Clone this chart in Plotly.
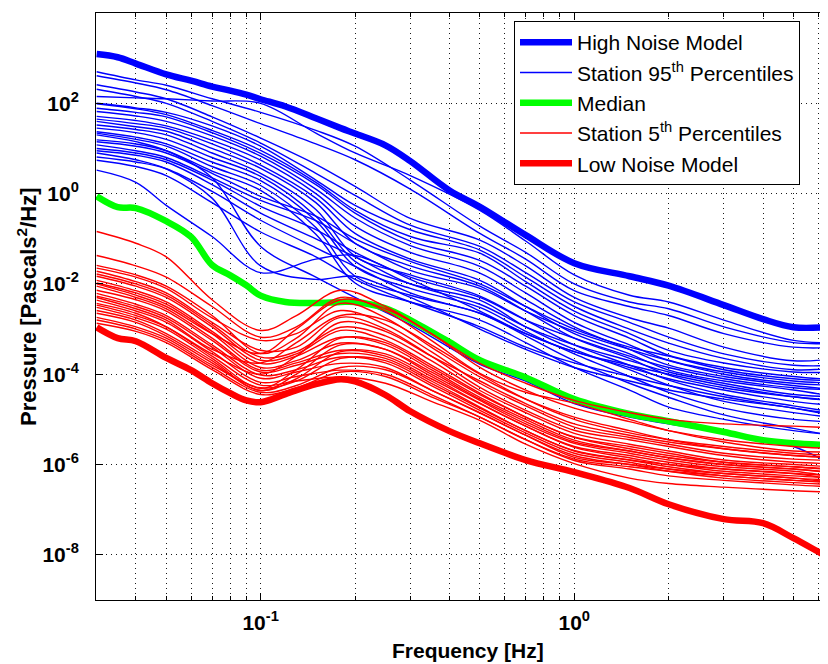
import plotly.graph_objects as go

# All PSD values below are log10(Pressure PSD [Pa^2/Hz]).

# ---------- noise models and median ----------
f_model = [0.03, 0.035, 0.04, 0.05, 0.06, 0.07, 0.08, 0.09, 0.1, 0.12, 0.15, 0.18, 0.2,
           0.25, 0.3, 0.4, 0.5, 0.7, 1.0, 1.5, 2.0, 3.0, 4.0, 5.0, 6.5, 7.0]
hnm_log = [3.09, 3.02, 2.88, 2.64, 2.50, 2.37, 2.28, 2.19, 2.09, 1.93, 1.67, 1.45, 1.33,
           1.07, 0.72, 0.07, -0.29, -0.92, -1.54, -1.83, -2.04, -2.47, -2.78, -2.96, -2.96, -2.96]
lnm_log = [-2.96, -3.20, -3.27, -3.64, -3.91, -4.20, -4.42, -4.58, -4.62, -4.44, -4.22, -4.11, -4.16,
           -4.46, -4.82, -5.26, -5.53, -5.90, -6.17, -6.52, -6.88, -7.21, -7.30, -7.63, -8.06, -8.15]
median_log = [-0.06, -0.30, -0.32, -0.61, -0.96, -1.58, -1.81, -2.03, -2.26, -2.40, -2.42, -2.40, -2.40,
              -2.54, -2.80, -3.29, -3.69, -4.07, -4.55, -4.88, -5.04, -5.28, -5.46, -5.53, -5.57, -5.58]

# ---------- station 95th percentiles ----------
f_blue = [0.03, 0.04, 0.05, 0.07, 0.1, 0.15, 0.2, 0.3, 0.5, 0.7, 1.0, 1.5, 2.0, 3.0, 5.0, 7.0]
s95_01 = [2.70, 2.52, 2.40, 2.10, 1.80, 1.40, 1.05, 0.30, -0.72, -1.30, -2.00, -2.40, -2.55, -2.95, -3.30, -3.31]
s95_02 = [2.61, 2.45, 2.30, 1.95, 1.55, 1.10, 0.75, 0.10, -0.88, -1.45, -2.15, -2.50, -2.70, -3.10, -3.40, -3.40]
s95_03 = [2.15, 2.12, 2.10, 2.05, 2.00, 1.34, 0.90, 0.40, -0.37, -1.05, -1.80, -2.25, -2.40, -2.80, -3.25, -3.31]
s95_04 = [2.41, 2.25, 2.10, 1.70, 1.23, 0.65, 0.16, -0.55, -1.03, -1.60, -2.30, -2.75, -2.98, -3.40, -3.70, -3.64]
s95_05 = [2.31, 2.15, 2.00, 1.60, 1.12, 0.45, -0.04, -0.70, -1.17, -1.75, -2.40, -2.85, -3.18, -3.55, -3.80, -3.80]
s95_06 = [2.00, 1.90, 1.80, 1.50, 1.05, 0.30, -0.26, -0.80, -1.25, -1.85, -2.50, -3.00, -3.31, -3.65, -3.90, -3.85]
s95_07 = [1.99, 1.88, 1.75, 1.40, 0.96, 0.25, -0.37, -0.95, -1.32, -1.95, -2.60, -3.10, -3.47, -3.75, -3.95, -3.95]
s95_08 = [1.89, 1.80, 1.70, 1.35, 0.89, 0.20, -0.43, -1.05, -1.48, -2.05, -2.70, -3.20, -3.58, -3.85, -4.05, -4.13]
s95_09 = [1.82, 1.72, 1.60, 1.28, 0.83, 0.10, -0.54, -1.15, -1.61, -2.20, -2.85, -3.35, -3.69, -3.95, -4.15, -4.20]
s95_10 = [1.71, 1.62, 1.50, 1.18, 0.74, 0.00, -0.72, -1.30, -1.76, -2.35, -2.95, -3.45, -3.80, -4.05, -4.25, -4.35]
s95_11 = [1.65, 1.55, 1.45, 1.10, 0.63, -0.10, -0.88, -1.45, -1.92, -2.50, -3.10, -3.55, -3.91, -4.15, -4.35, -4.51]
s95_12 = [1.60, 1.48, 1.38, 1.00, 0.56, -0.20, -1.10, -1.60, -2.05, -2.60, -3.20, -3.65, -4.02, -4.30, -4.50, -4.58]
s95_13 = [1.52, 1.42, 1.30, 0.90, 0.45, -0.35, -1.39, -1.80, -2.27, -2.80, -3.35, -3.80, -4.13, -4.45, -4.70, -4.86]
s95_14 = [1.45, 1.35, 1.20, 0.80, 0.38, -0.50, -1.50, -2.00, -2.36, -2.95, -3.45, -3.90, -4.24, -4.60, -4.85, -4.97]
s95_15 = [1.37, 1.25, 1.10, 0.70, 0.29, -0.60, -1.61, -2.10, -2.52, -3.05, -3.55, -4.05, -4.40, -4.75, -5.00, -5.06]
s95_16 = [1.34, 1.20, 1.05, 0.60, 0.18, -0.75, -1.83, -2.25, -2.65, -3.15, -3.70, -4.20, -4.51, -4.90, -5.20, -5.39]
s95_17 = [1.19, 1.10, 0.95, 0.50, 0.07, -0.90, -1.98, -2.40, -2.80, -3.30, -3.85, -4.35, -4.73, -5.00, -5.25, -5.35]
s95_18 = [1.15, 1.05, 0.90, 0.45, -0.06, -0.50, -1.00, -1.50, -2.00, -2.50, -3.00, -3.40, -3.60, -3.90, -4.10, -4.15]
s95_19 = [1.08, 0.95, 0.80, 0.35, -0.15, -0.60, -1.10, -1.70, -2.10, -2.60, -3.05, -3.45, -3.70, -4.00, -4.20, -4.25]
s95_20 = [1.00, 0.90, 0.75, 0.30, -0.28, -0.80, -1.30, -1.85, -2.30, -2.80, -3.20, -3.60, -3.85, -4.10, -4.30, -4.35]
s95_21 = [0.95, 0.85, 0.70, 0.20, -0.43, -1.00, -1.40, -2.00, -2.45, -2.95, -3.35, -3.70, -3.95, -4.20, -4.45, -4.50]
s95_22 = [0.81, 0.70, 0.55, 0.05, -0.59, -1.20, -1.61, -2.20, -2.65, -3.10, -3.50, -3.85, -4.10, -4.35, -4.60, -4.70]
s95_23 = [0.74, 0.60, 0.40, -0.20, -0.85, -1.40, -1.90, -2.40, -2.95, -3.40, -3.75, -4.05, -4.25, -4.50, -4.75, -4.90]
s95_24 = [0.52, 0.25, -0.26, -0.95, -1.75, -1.45, -1.37, -1.90, -2.60, -3.10, -3.50, -3.80, -4.00, -4.25, -4.50, -4.60]
s95_25 = [1.30, 1.15, 0.95, 0.35, -1.17, -1.85, -2.30, -2.90, -3.78, -4.15, -4.65, -4.95, -5.10, -5.30, -5.60, -6.10]
s95_26 = [0.90, 0.75, 0.55, -0.10, -1.60, -1.90, -1.83, -2.30, -3.00, -3.45, -3.85, -4.15, -4.35, -4.55, -4.75, -4.95]
station95 = [s95_01, s95_02, s95_03, s95_04, s95_05, s95_06, s95_07, s95_08, s95_09, s95_10,
             s95_11, s95_12, s95_13, s95_14, s95_15, s95_16, s95_17, s95_18, s95_19, s95_20,
             s95_21, s95_22, s95_23, s95_24, s95_25, s95_26]

# ---------- station 5th percentiles ----------
f_red = [0.03, 0.04, 0.05, 0.07, 0.1, 0.13, 0.18, 0.25, 0.35, 0.5, 0.7, 1.0, 1.5, 2.0, 3.0, 5.0, 7.0]
s05_01 = [-0.84, -1.10, -1.40, -2.35, -3.03, -2.70, -2.14, -2.50, -3.10, -3.76, -4.20, -4.58, -4.85, -5.00, -5.10, -5.15, -5.19]
s05_02 = [-1.37, -1.60, -1.85, -2.50, -3.18, -2.95, -2.30, -2.60, -3.25, -3.98, -4.40, -4.64, -5.00, -5.25, -5.50, -5.70, -5.72]
s05_03 = [-1.59, -1.80, -2.05, -2.70, -3.54, -3.20, -2.43, -2.75, -3.40, -4.06, -4.55, -4.95, -5.25, -5.45, -5.65, -5.80, -5.84]
s05_04 = [-1.65, -1.85, -2.10, -2.75, -3.25, -3.10, -2.59, -2.90, -3.50, -4.20, -4.70, -5.17, -5.40, -5.55, -5.75, -5.88, -5.91]
s05_05 = [-1.72, -1.95, -2.20, -2.85, -3.47, -3.40, -2.74, -3.00, -3.60, -4.29, -4.80, -5.24, -5.45, -5.60, -5.80, -5.95, -5.98]
s05_06 = [-1.78, -2.00, -2.25, -2.90, -3.62, -3.50, -2.96, -3.15, -3.70, -4.36, -4.85, -5.31, -5.55, -5.70, -5.90, -6.00, -6.06]
s05_07 = [-1.83, -2.05, -2.30, -2.95, -3.69, -3.55, -3.03, -3.25, -3.80, -4.42, -4.95, -5.39, -5.60, -5.75, -5.95, -6.05, -6.13]
s05_08 = [-1.92, -2.15, -2.40, -3.05, -3.76, -3.60, -3.18, -3.35, -3.90, -4.51, -5.00, -5.46, -5.70, -5.85, -6.00, -6.10, -6.20]
s05_09 = [-1.98, -2.20, -2.45, -3.10, -3.85, -3.70, -3.31, -3.45, -4.00, -4.58, -5.10, -5.53, -5.75, -5.90, -6.05, -6.15, -6.29]
s05_10 = [-2.05, -2.30, -2.55, -3.20, -3.91, -3.75, -3.47, -3.55, -4.05, -4.64, -5.15, -5.62, -5.85, -6.00, -6.10, -6.20, -6.35]
s05_11 = [-2.14, -2.35, -2.60, -3.25, -3.95, -3.80, -3.54, -3.65, -4.15, -4.73, -5.25, -5.69, -5.90, -6.05, -6.20, -6.30, -6.42]
s05_12 = [-2.21, -2.45, -2.70, -3.35, -4.02, -3.90, -3.62, -3.75, -4.25, -4.80, -5.30, -5.75, -5.95, -6.10, -6.25, -6.35, -6.42]
s05_13 = [-2.27, -2.50, -2.75, -3.40, -4.09, -3.95, -3.76, -3.85, -4.35, -4.86, -5.35, -5.84, -6.00, -6.15, -6.30, -6.40, -6.45]
s05_14 = [-2.36, -2.60, -2.85, -3.50, -4.18, -4.05, -3.91, -4.00, -4.45, -4.95, -5.45, -5.91, -6.10, -6.25, -6.35, -6.45, -6.50]
s05_15 = [-2.43, -2.65, -2.95, -3.60, -4.24, -4.15, -4.06, -4.20, -4.60, -5.02, -5.55, -5.98, -6.30, -6.42, -6.50, -6.58, -6.62]
s05_16 = [-2.52, -2.75, -3.00, -3.65, -4.31, -3.90, -3.20, -3.30, -3.85, -4.45, -4.95, -5.40, -5.65, -5.80, -5.95, -6.05, -6.10]
s05_17 = [-2.59, -2.80, -3.10, -3.70, -4.36, -4.00, -3.35, -3.45, -3.95, -4.55, -5.05, -5.50, -5.70, -5.85, -6.00, -6.10, -6.18]
s05_18 = [-2.65, -2.85, -3.15, -3.75, -4.36, -4.10, -3.50, -3.60, -4.10, -4.65, -5.15, -5.60, -5.80, -5.95, -6.10, -6.20, -6.25]
s05_19 = [-2.74, -2.95, -3.20, -3.80, -4.30, -4.15, -3.65, -3.70, -4.20, -4.75, -5.25, -5.70, -5.90, -6.00, -6.15, -6.25, -6.30]
s05_20 = [-2.80, -3.00, -3.25, -3.85, -4.40, -4.25, -3.85, -3.90, -4.35, -4.85, -5.35, -5.80, -6.00, -6.10, -6.20, -6.30, -6.35]
s05_21 = [-2.87, -3.05, -3.30, -3.90, -4.45, -4.30, -3.95, -4.05, -4.50, -4.95, -5.45, -5.88, -6.05, -6.15, -6.25, -6.35, -6.38]
s05_22 = [-2.00, -2.25, -2.50, -3.10, -3.54, -3.00, -2.35, -2.55, -3.10, -3.85, -4.35, -4.75, -5.05, -5.25, -5.45, -5.60, -5.65]
s05_23 = [-2.30, -2.55, -2.80, -3.45, -3.75, -3.30, -2.70, -2.80, -3.35, -4.00, -4.55, -5.00, -5.30, -5.45, -5.60, -5.75, -5.80]
s05_24 = [-2.47, -2.70, -2.95, -3.55, -4.00, -3.60, -2.85, -3.05, -3.60, -4.15, -4.65, -5.10, -5.35, -5.50, -5.65, -5.80, -5.85]
station05 = [s05_01, s05_02, s05_03, s05_04, s05_05, s05_06, s05_07, s05_08, s05_09, s05_10,
             s05_11, s05_12, s05_13, s05_14, s05_15, s05_16, s05_17, s05_18, s05_19, s05_20,
             s05_21, s05_22, s05_23, s05_24]

# ---------- axis ticks ----------
x_major_vals = [0.1, 1.0]
x_major_text = ["10<sup>-1</sup>", "10<sup>0</sup>"]
x_minor_vals = [0.04, 0.05, 0.06, 0.07, 0.08, 0.09, 0.2, 0.3, 0.4, 0.5, 0.6, 0.7, 0.8, 0.9,
                2.0, 3.0, 4.0, 5.0, 6.0]
y_tickvals = [1e-8, 1e-6, 1e-4, 1e-2, 1e0, 1e2]
y_ticktext = ["10<sup>-8</sup>", "10<sup>-6</sup>", "10<sup>-4</sup>", "10<sup>-2</sup>",
              "10<sup>0</sup>", "10<sup>2</sup>"]

BLUE, GREEN, RED = "#0000FF", "#00FF00", "#FF0000"
FONT = "Liberation Sans, Arial, Helvetica, sans-serif"
GRIDC = "#1a1a1a"
DOTS = "1px,4px"

# The page body has an 8px default margin. The axes run on past the right edge
# of the window, as in the reference where the plot is cut off at the right.
OFF = 8
FIG_W, FIG_H = 836, 656
PAGE_RIGHT = 836            # page x where the axes end (beyond the 828px window)
PX_PER_DECADE = 313.6
X_LOG_MIN = -1.525
X_LOG_MAX = X_LOG_MIN + (PAGE_RIGHT - 96) / PX_PER_DECADE

fig = go.Figure()


def add_line(freqs, logvals, color, width, name=None, show=False):
    fig.add_trace(go.Scatter(
        x=freqs, y=[10 ** v for v in logvals], mode="lines",
        line=dict(color=color, width=width, shape="spline", smoothing=1.0),
        name=name, showlegend=show, hoverinfo="skip"))


add_line(f_model, hnm_log, BLUE, 6.5, "High Noise Model", True)
for i, s in enumerate(station95):
    add_line(f_blue, s, BLUE, 1.4, "Station 95<sup>th</sup> Percentiles", i == 0)
add_line(f_model, median_log, GREEN, 6.5, "Median", True)
for i, s in enumerate(station05):
    add_line(f_red, s, RED, 1.4, "Station 5<sup>th</sup> Percentiles", i == 0)
add_line(f_model, lnm_log, RED, 6.5, "Low Noise Model", True)

PL, PT, PR, PB = 96 - OFF, 13 - OFF, PAGE_RIGHT - OFF, 600 - OFF   # plot box, figure px
PW, PH = PR - PL, PB - PT


def px(xp):
    return (xp - OFF - PL) / PW


def py(yp):
    return (PB - (yp - OFF)) / PH


fig.update_layout(
    template="none",
    width=FIG_W, height=FIG_H,
    margin=dict(l=PL, r=FIG_W - PR, t=PT, b=FIG_H - PB, autoexpand=False),
    paper_bgcolor="white", plot_bgcolor="white",
    font=dict(family=FONT, color="black"),
    xaxis=dict(type="log", range=[X_LOG_MIN, X_LOG_MAX], automargin=False,
               tickmode="array", tickvals=x_major_vals, ticktext=x_major_text,
               ticks="inside", ticklen=7, tickcolor="black", tickwidth=1,
               showline=True, linecolor="black", linewidth=1, mirror="ticks",
               zeroline=False, tickfont=dict(family=FONT, size=21, weight="bold"),
               ticklabelstandoff=4,
               showgrid=True, gridcolor=GRIDC, griddash=DOTS, gridwidth=1,
               minor=dict(tickmode="array", tickvals=x_minor_vals, ticks="inside",
                          ticklen=4, tickcolor="black", tickwidth=1,
                          showgrid=True, gridcolor=GRIDC, griddash=DOTS, gridwidth=1)),
    yaxis=dict(type="log", range=[-9, 4], automargin=False,
               tickmode="array", tickvals=y_tickvals, ticktext=y_ticktext,
               ticks="inside", ticklen=7, tickcolor="black", tickwidth=1,
               showline=True, linecolor="black", linewidth=1, mirror=False,
               zeroline=False, tickfont=dict(family=FONT, size=21, weight="bold"),
               ticklabelstandoff=12,
               showgrid=True, gridcolor=GRIDC, griddash=DOTS, gridwidth=1),
    legend=dict(x=px(514), y=py(21), xanchor="left", yanchor="top",
                bordercolor="black", borderwidth=1, bgcolor="white",
                font=dict(family=FONT, size=21, color="black"),
                itemwidth=52, tracegroupgap=0, traceorder="normal"),
    annotations=[
        dict(text="<b>Frequency [Hz]</b>", xref="paper", yref="paper",
             x=px(468), y=py(650), xanchor="center", yanchor="middle",
             showarrow=False, font=dict(family=FONT, size=21, color="black")),
        dict(text="<b>Pressure [Pascals<sup>2</sup>/Hz]</b>", xref="paper", yref="paper",
             x=px(27), y=py(307), xanchor="center", yanchor="middle",
             textangle=-90, showarrow=False, font=dict(family=FONT, size=22, color="black")),
    ],
)

fig.write_html("out.html")
